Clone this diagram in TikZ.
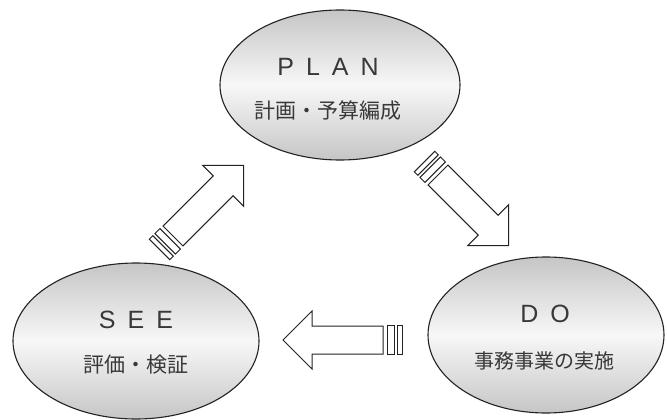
\documentclass[tikz,border=0pt]{standalone}
\usepackage{fontspec}
\setmainfont{Liberation Sans}
\newfontfamily\jpfont{Noto Sans CJK JP}
\usetikzlibrary{shapes.geometric}
\definecolor{ink}{HTML}{222222}
\tikzset{
  phase/.style={ellipse, draw=ink, line width=1.1pt, inner sep=0pt,
    top color=gray!45, bottom color=gray!45, middle color=gray!6},
  title/.style={font=\fontsize{25}{25}\selectfont, text=ink!90, inner sep=0pt},
  sub/.style={font=\jpfont\fontsize{21}{21}\selectfont, text=ink!90, inner sep=0pt},
  arrline/.style={draw=ink, line width=1pt, fill=white, line join=miter},
  blockarr/.pic={
    \draw[arrline] (0pt,-14pt) -- (71pt,-14pt) -- (71pt,-29pt) -- (100pt,0pt)
      -- (71pt,29pt) -- (71pt,14pt) -- (0pt,14pt) -- cycle;
    \draw[arrline] (-4pt,-14.5pt) rectangle (-11pt,14.5pt);
    \draw[arrline] (-14pt,-14.5pt) rectangle (-19pt,14.5pt);
  }
}
\newcommand{\gap}{\hspace{12pt}}
\begin{document}
\begin{tikzpicture}[x=1pt,y=-1pt]
  \useasboundingbox[fill=white] (0,0) rectangle (667,420);
  % phases
  \node[phase, minimum width=240pt, minimum height=150pt] (plan) at (340,85) {};
  \node[phase, minimum width=246pt, minimum height=156pt] (see) at (136,341) {};
  \node[phase, minimum width=236pt, minimum height=156pt] (do) at (546,335) {};
  % texts
  \node[title] (plant) at (328,67) {P\gap L\gap A\gap N};
  \node[sub] (plans) at (328,111) {計画・予算編成};
  \node[title] (seet) at (136,320) {S\gap E\gap E};
  \node[sub] (sees) at (136,365) {評価・検証};
  \node[title] (dot) at (545,314) {D\gap O};
  \node[sub, font=\jpfont\fontsize{20}{20}\selectfont] (dos) at (544,361) {事務事業の実施};
  % block arrows
  \coordinate (a1) at (173,236);
  \coordinate (a2) at (438,175);
  \coordinate (a3) at (383,340);
  \pic[rotate=45] at (a1) {blockarr};
  \pic[rotate=-45] at (a2) {blockarr};
  \pic[rotate=180] at (a3) {blockarr};
\end{tikzpicture}
\end{document}
